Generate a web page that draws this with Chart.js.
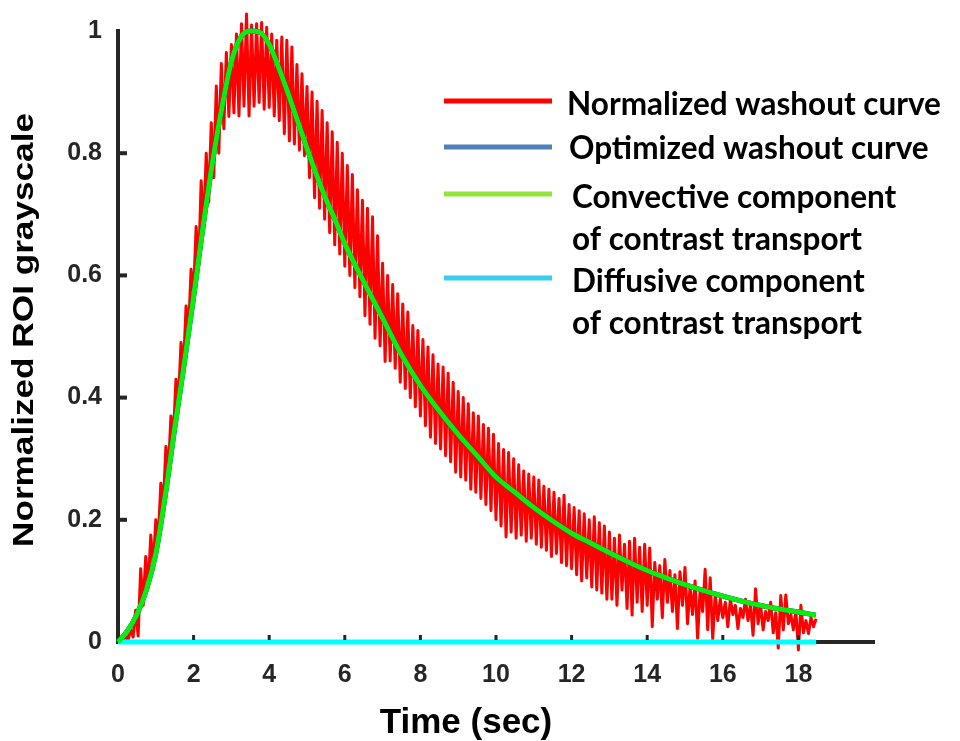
<!DOCTYPE html>
<html>
<head>
<meta charset="utf-8">
<script src="https://cdn.jsdelivr.net/npm/chart.js@4.4.0/dist/chart.umd.min.js"></script>
<style>
  html, body { margin: 0; padding: 0; background: #fff; }
  canvas { display: block; }
</style>
</head>
<body>
<canvas id="myChart" width="960" height="741"></canvas>
<script>
// Data
const seriesLabels = [
  ["Normalized washout curve"],
  ["Optimized washout curve"],
  ["Convective component", "of contrast transport"],
  ["Diffusive component", "of contrast transport"]
];
const xTitle = "Time (sec)";
const yTitle = "Normalized ROI grayscale";
const xTicks = [0, 2, 4, 6, 8, 10, 12, 14, 16, 18];
const yTicks = [0, 0.2, 0.4, 0.6, 0.8, 1];

// measured curve, one value per frame (15 frames / sec)
const frameRate = 15;
const normalizedValues = [
  0.000, 0.004, 0.000, 0.012, 0.002, 0.020, 0.008, 0.052, 0.010, 0.120, 0.060, 0.140, 0.090, 0.175, 0.125,
  0.200, 0.170, 0.260, 0.225, 0.320, 0.280, 0.370, 0.340, 0.430, 0.395, 0.490, 0.450, 0.550, 0.510, 0.610,
  0.570, 0.680, 0.615, 0.755, 0.675, 0.800, 0.720, 0.850, 0.760, 0.910, 0.800, 0.947, 0.840, 0.965, 0.860,
  0.978, 0.866, 0.995, 0.861, 1.012, 0.877, 1.028, 0.861, 1.010, 0.877, 1.012, 0.883, 1.014, 0.872, 1.006,
  0.875, 0.995, 0.861, 0.985, 0.853, 0.990, 0.832, 0.985, 0.820, 0.974, 0.815, 0.945, 0.805, 0.930, 0.796,
  0.909, 0.760, 0.900, 0.727, 0.885, 0.710, 0.870, 0.692, 0.850, 0.670, 0.835, 0.650, 0.818, 0.635, 0.800,
  0.615, 0.780, 0.600, 0.765, 0.580, 0.740, 0.565, 0.723, 0.534, 0.710, 0.520, 0.696, 0.497, 0.665, 0.485,
  0.620, 0.459, 0.600, 0.460, 0.585, 0.448, 0.570, 0.425, 0.553, 0.415, 0.540, 0.400, 0.518, 0.385, 0.510,
  0.370, 0.495, 0.354, 0.483, 0.335, 0.470, 0.325, 0.455, 0.316, 0.450, 0.305, 0.440, 0.295, 0.425, 0.278,
  0.410, 0.270, 0.400, 0.265, 0.390, 0.250, 0.375, 0.245, 0.370, 0.235, 0.356, 0.225, 0.350, 0.215, 0.340,
  0.200, 0.325, 0.190, 0.315, 0.172, 0.310, 0.180, 0.300, 0.170, 0.290, 0.175, 0.280, 0.165, 0.275, 0.170,
  0.270, 0.160, 0.265, 0.155, 0.255, 0.150, 0.250, 0.140, 0.245, 0.145, 0.235, 0.130, 0.240, 0.125, 0.225,
  0.120, 0.220, 0.110, 0.215, 0.100, 0.210, 0.105, 0.200, 0.090, 0.205, 0.085, 0.195, 0.080, 0.190, 0.070,
  0.180, 0.070, 0.170, 0.060, 0.175, 0.085, 0.160, 0.055, 0.165, 0.044, 0.170, 0.065, 0.155, 0.050, 0.160,
  0.060, 0.154, 0.025, 0.130, 0.070, 0.125, 0.040, 0.135, 0.065, 0.117, 0.050, 0.110, 0.022, 0.115, 0.060,
  0.122, 0.030, 0.090, 0.045, 0.100, 0.006, 0.085, 0.050, 0.119, 0.020, 0.105, 0.005, 0.080, 0.035, 0.070,
  0.040, 0.065, 0.025, 0.070, 0.045, 0.060, 0.022, 0.055, 0.040, 0.070, 0.035, 0.062, 0.011, 0.087, 0.030,
  0.060, 0.020, 0.050, 0.035, 0.065, 0.015, 0.048, -0.010, 0.076, 0.020, 0.077, 0.030, 0.045, 0.020, 0.050,
  -0.013, 0.060, 0.015, 0.035, 0.014, 0.040, 0.025, 0.038
];

const convectiveTimes = [0, 0.25, 0.5, 0.75, 1, 1.25, 1.5, 1.75, 2, 2.25, 2.5, 2.75, 3, 3.25, 3.5, 3.75,
  4, 4.25, 4.5, 4.75, 5, 5.25, 5.5, 5.75, 6, 6.5, 7, 7.5, 8, 8.5, 9, 9.5, 10, 10.5, 11, 11.5, 12, 12.5,
  13, 13.5, 14, 14.5, 15, 15.5, 16, 16.5, 17, 17.5, 18, 18.46];
const convectiveValues = [0, 0.018, 0.045, 0.085, 0.145, 0.24, 0.35, 0.455, 0.565, 0.68, 0.785, 0.875,
  0.95, 0.99, 1.0, 0.998, 0.978, 0.94, 0.898, 0.853, 0.808, 0.765, 0.725, 0.69, 0.652, 0.59, 0.53, 0.47,
  0.42, 0.378, 0.34, 0.305, 0.27, 0.245, 0.22, 0.198, 0.178, 0.162, 0.146, 0.131, 0.117, 0.105, 0.094,
  0.084, 0.075, 0.067, 0.06, 0.054, 0.049, 0.044];

// optimized fit lies under the convective curve (diffusive part is zero)
const optimizedTimes = convectiveTimes;
const optimizedValues = convectiveValues;

const diffusiveTimes = [0, 18.47];
const diffusiveValues = [0, 0];

const toPoints = (xs, ys) => ys.map((v, i) => ({ x: xs[i], y: v }));
const normalizedPoints = normalizedValues.map((v, i) => ({ x: i / frameRate, y: v }));

const axisColor = "#262626";
const legendColors = ["#ff0000", "#4f81bd", "#92e33b", "#36cfec"];

// Legend, inward tick marks and axis titles
const decorations = {
  id: "decorations",
  afterDatasetsDraw(chart) {
    const { ctx, scales: { x, y } } = chart;
    ctx.save();
    ctx.fillStyle = axisColor;
    const y0 = y.getPixelForValue(0);
    xTicks.forEach(v => {
      if (v === 0) return;
      ctx.fillRect(x.getPixelForValue(v) - 1.5, y0 - 7, 3, 5);
    });
    yTicks.forEach(v => {
      if (v === 0 || v === 1) return;
      ctx.fillRect(x.left + 2, y.getPixelForValue(v) - 2, 7, 4);
    });
    ctx.restore();
  },
  afterDraw(chart) {
    const { ctx } = chart;
    ctx.save();

    // legend
    const rows = [
      { lineY: 101, textX: 567, base: [115] },
      { lineY: 147, textX: 569, base: [159] },
      { lineY: 194, textX: 572, base: [208, 250] },
      { lineY: 278, textX: 572, base: [292, 334] }
    ];
    ctx.lineWidth = 5;
    ctx.font = "bold 31.5px Lato";
    ctx.fillStyle = "#000";
    ctx.textAlign = "left";
    ctx.textBaseline = "alphabetic";
    rows.forEach((r, i) => {
      ctx.strokeStyle = legendColors[i];
      ctx.beginPath();
      ctx.moveTo(444, r.lineY);
      ctx.lineTo(552, r.lineY);
      ctx.stroke();
      seriesLabels[i].forEach((line, j) => ctx.fillText(line, r.textX, r.base[j]));
    });

    // x title
    ctx.font = 'bold 35px "Liberation Sans"';
    ctx.textAlign = "center";
    ctx.fillText(xTitle, 466, 733);

    // y title (stretched along its length like the original)
    ctx.translate(33, 330);
    ctx.rotate(-Math.PI / 2);
    ctx.font = 'bold 29px "Liberation Sans"';
    const w = ctx.measureText(yTitle).width;
    ctx.scale(434 / w, 1);
    ctx.fillText(yTitle, 0, 0);
    ctx.restore();
  }
};

// Configuration
const config = {
  type: "line",
  data: {
    datasets: [
      {
        label: seriesLabels[0].join(" "),
        data: normalizedPoints,
        borderColor: "#ff0000",
        borderWidth: 3,
        borderJoinStyle: "round",
        order: 4
      },
      {
        label: seriesLabels[1].join(" "),
        data: toPoints(optimizedTimes, optimizedValues),
        borderColor: "#0000ff",
        borderWidth: 5,
        cubicInterpolationMode: "monotone",
        order: 3
      },
      {
        label: seriesLabels[2].join(" "),
        data: toPoints(convectiveTimes, convectiveValues),
        borderColor: "#0aee0a",
        borderWidth: 5,
        cubicInterpolationMode: "monotone",
        order: 1
      },
      {
        label: seriesLabels[3].join(" "),
        data: toPoints(diffusiveTimes, diffusiveValues),
        borderColor: "#00ffff",
        borderWidth: 5,
        borderCapStyle: "butt",
        order: 2
      }
    ]
  },
  options: {
    responsive: false,
    animation: false,
    layout: { padding: { left: 0, top: 24, right: 86, bottom: 0 } },
    elements: { point: { radius: 0 }, line: { fill: false } },
    datasets: { line: { clip: false } },
    plugins: { legend: { display: false }, tooltip: { enabled: false } },
    scales: {
      x: {
        type: "linear",
        min: 0,
        max: 20,
        afterBuildTicks: s => { s.ticks = xTicks.map(v => ({ value: v })); },
        afterFit: s => { s.height = 99; },
        grid: { display: false, drawTicks: false },
        border: { color: axisColor, width: 4 },
        ticks: {
          autoSkip: false,
          maxRotation: 0,
          padding: 18,
          color: axisColor,
          font: { family: "Liberation Sans", size: 25, weight: "bold" },
          callback: v => String(v)
        }
      },
      y: {
        min: 0,
        max: 1,
        afterBuildTicks: s => { s.ticks = yTicks.map(v => ({ value: v })); },
        afterFit: s => { s.width = 118; },
        grid: { display: false, drawTicks: false },
        border: { color: axisColor, width: 4 },
        ticks: {
          padding: 16,
          color: axisColor,
          font: { family: "Liberation Sans", size: 25, weight: "bold" },
          callback: v => String(v)
        }
      }
    }
  },
  plugins: [decorations]
};

// Create chart
const ctx = document.getElementById("myChart").getContext("2d");
const myChart = new Chart(ctx, config);
</script>
</body>
</html>
